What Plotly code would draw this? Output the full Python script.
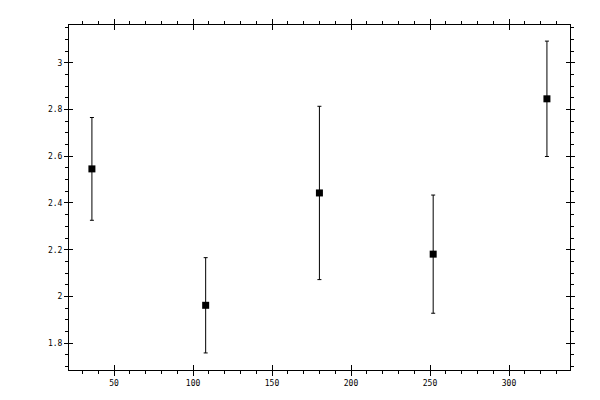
import plotly.graph_objects as go

x_vals = [36, 108, 180, 252, 324]
y_vals = [2.546, 1.962, 2.443, 2.181, 2.846]
y_err = [0.220, 0.204, 0.371, 0.253, 0.247]

x_range = [21.5, 338.6]
y_range = [1.685, 3.162]

fig = go.Figure()
fig.add_trace(go.Scatter(x=x_vals, y=y_vals, mode='markers',
                         marker=dict(symbol='square', size=7, color='black'),
                         error_y=dict(type='data', array=y_err, visible=True,
                                      color='black', thickness=1, width=2),
                         showlegend=False, hoverinfo='skip'))
# invisible trace on the second axis pair so the inner ticks get drawn
fig.add_trace(go.Scatter(x=[x_vals[0]], y=[y_vals[0]], xaxis='x2', yaxis='y2',
                         mode='markers', marker=dict(opacity=0),
                         showlegend=False, hoverinfo='skip'))

tickfont = dict(family='DejaVu Sans Mono', size=8, color='black')

# page body has an 8px margin, so the figure is a bit smaller than the window
fig.update_layout(
    width=592, height=392,
    margin=dict(l=61, r=30, t=11, b=30),
    plot_bgcolor='white', paper_bgcolor='white',
    xaxis=dict(range=x_range, showgrid=False, zeroline=False,
               showline=True, linecolor='black', linewidth=1, mirror='allticks',
               ticks='outside', ticklen=5, tickwidth=1, tickcolor='black',
               dtick=50, tick0=0, tickfont=tickfont,
               minor=dict(ticks='outside', ticklen=3, dtick=10, tickcolor='black')),
    yaxis=dict(range=y_range, showgrid=False, zeroline=False,
               showline=True, linecolor='black', linewidth=1, mirror='allticks',
               ticks='outside', ticklen=4, tickwidth=1, tickcolor='black',
               dtick=0.2, tick0=0, tickfont=tickfont,
               minor=dict(ticks='outside', ticklen=3, dtick=0.05, tickcolor='black')),
    xaxis2=dict(range=x_range, overlaying='x', showgrid=False, zeroline=False,
                showline=False, mirror='ticks', ticks='inside', ticklen=5,
                tickcolor='black', dtick=50, tick0=0, showticklabels=False),
    yaxis2=dict(range=y_range, overlaying='y', showgrid=False, zeroline=False,
                showline=False, mirror='ticks', ticks='inside', ticklen=4,
                tickcolor='black', dtick=0.2, tick0=0, showticklabels=False),
)

fig.write_html("out.html")
